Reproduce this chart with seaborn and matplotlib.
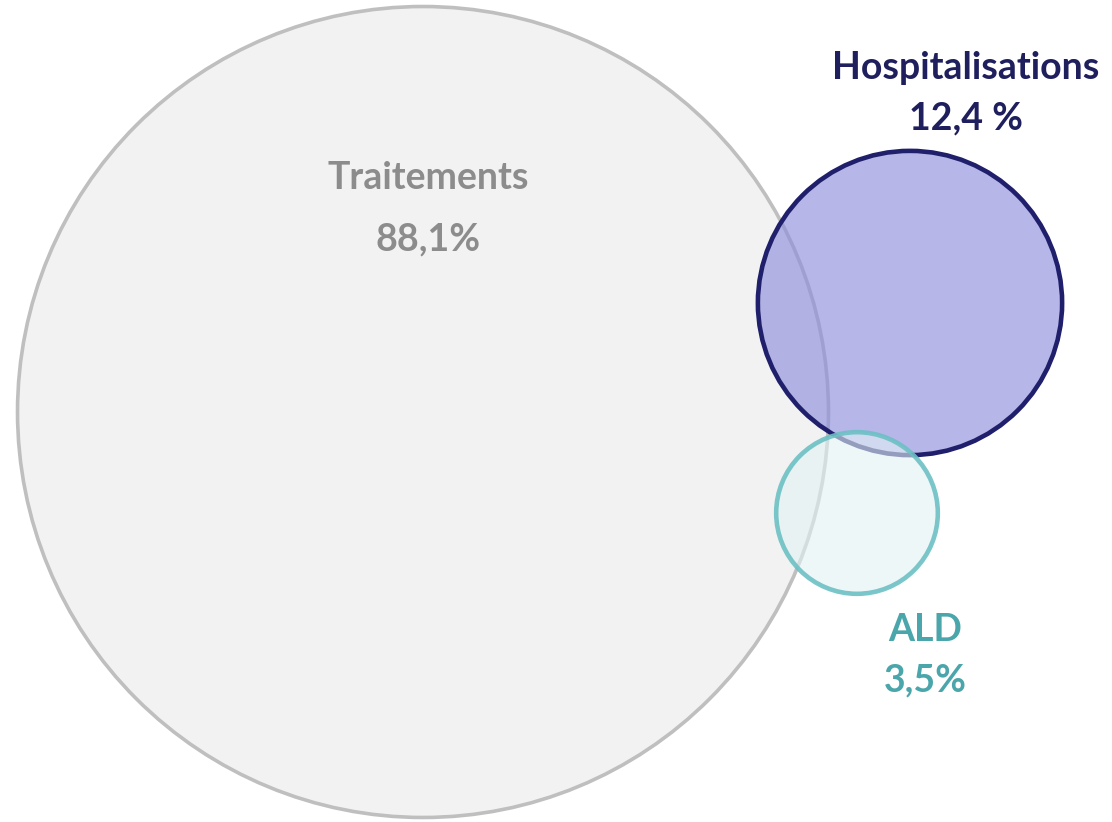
import numpy as np
import seaborn as sns
import matplotlib.pyplot as plt
from matplotlib.patches import Circle

# share of patients by type of care
groups = ["Traitements", "Hospitalisations", "ALD"]
shares = [88.1, 12.4, 3.5]
share_labels = ["88,1%", "12,4 %", "3,5%"]

# layout (pixel coords of the 1112x822 canvas)
centers = [(423, 412), (910, 303), (857, 513)]
label_pos = [(428, 178), (966, 68), (925, 630)]
scale = 43.2

fills = ["#f2f2f2", "#8f8fdc", "#e3f2f4"]
alphas = [1.0, 0.65, 0.6]
edges = ["#bfbfbf", "#1f1f6b", "#6cc0c4"]
text_colors = ["#8c8c8c", "#1f1f5e", "#4aa6aa"]

sns.set_theme(style="white")
plt.rcParams['font.family'] = ['Lato', 'DejaVu Sans']

fig = plt.figure(figsize=(11.12, 8.22), dpi=100)
ax = fig.add_axes([0, 0, 1, 1])
ax.set_xlim(0, 1112)
ax.set_ylim(822, 0)
ax.set_aspect('equal')
ax.axis('off')

for i, g in enumerate(groups):
    r = scale * np.sqrt(shares[i])
    ax.add_patch(Circle(centers[i], r, facecolor=fills[i], alpha=alphas[i],
                        edgecolor='none', zorder=1 + i))
    ax.add_patch(Circle(centers[i], r, facecolor='none', edgecolor=edges[i],
                        lw=2.6 if i == 0 else 3.3, alpha=0.9 if i == 2 else 1.0,
                        zorder=1 + i))
    x, y = label_pos[i]
    ax.text(x, y, g, ha='center', va='center', fontsize=27, fontweight='bold',
            color=text_colors[i], zorder=10)
    ax.text(x, y + 50 if i else y + 61, share_labels[i], ha='center', va='center',
            fontsize=27, fontweight='bold', color=text_colors[i], zorder=10)

fig.savefig("out.png", dpi=100)
